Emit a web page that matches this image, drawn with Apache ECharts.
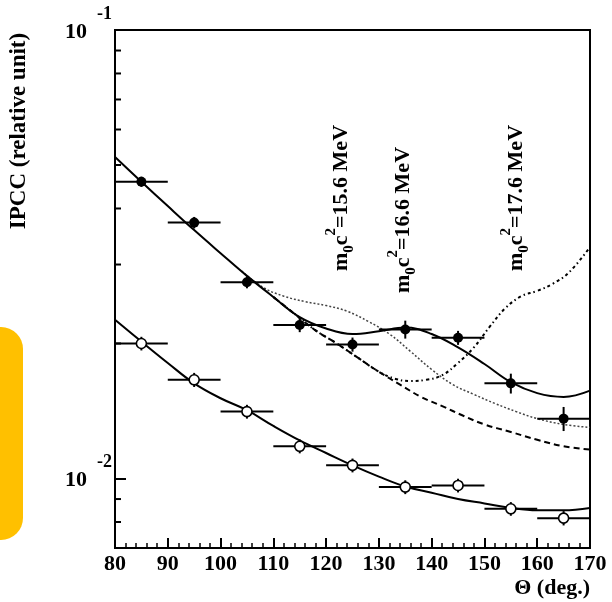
<!DOCTYPE html>
<html>
<head>
<meta charset="utf-8">
<script src="https://cdn.jsdelivr.net/npm/echarts@6/dist/echarts.min.js"></script>
<style>html,body{margin:0;padding:0;background:#fff}#c{width:612px;height:602px}</style>
</head>
<body>
<div id="c"></div>
<script>
// ---- data ----
const thetaPts = [85, 95, 105, 115, 125, 135, 145, 155, 165];
const filledVals = [0.0459, 0.0372, 0.0274, 0.0220, 0.0199, 0.0215, 0.0206, 0.0163, 0.0136];
const filledErr  = [0.0012, 0.0011, 0.00085, 0.0008, 0.00072, 0.00099, 0.00074, 0.00083, 0.00084];
const openVals   = [0.0200, 0.0166, 0.0141, 0.0118, 0.0107, 0.00957, 0.00965, 0.00856, 0.00816];
const openErr    = [0.0007, 0.0006, 0.0005, 0.00042, 0.00038, 0.00034, 0.00034, 0.0003, 0.0003];
const thetaHalfWidth = 5;

const thetaFit = [80, 85, 90, 95, 100, 105, 110, 115, 120, 125, 130, 135, 140, 145, 150, 155, 160, 165, 170];
const fitOn  = [0.0521, 0.0459, 0.0405, 0.0358, 0.0318, 0.0283, 0.0254, 0.0229, 0.0216, 0.0210, 0.0213, 0.0217, 0.0210, 0.0196, 0.0180, 0.0164, 0.0155, 0.0152, 0.0157];
const fitOff = [0.0226, 0.0202, 0.0181, 0.0163, 0.0151, 0.0142, 0.0131, 0.01216, 0.0114, 0.0107, 0.0101, 0.0096, 0.0093, 0.0090, 0.0088, 0.0086, 0.0085, 0.0085, 0.0086];

const theta156 = [104, 108, 112, 116, 120, 124, 128, 132, 136, 140, 144, 148, 152, 156, 160, 165, 170];
const vals156  = [0.0290, 0.0267, 0.0255, 0.0248, 0.0243, 0.0236, 0.0224, 0.0210, 0.0192, 0.0175, 0.0162, 0.0154, 0.0147, 0.0141, 0.0136, 0.0132, 0.0130];

const theta166 = [110, 114, 118, 122, 126, 130, 134, 138, 142, 146, 150, 155, 160, 165, 170];
const vals166  = [0.0254, 0.0233, 0.0214, 0.0200, 0.0186, 0.0173, 0.0162, 0.0152, 0.0145, 0.0138, 0.0132, 0.0127, 0.0122, 0.0118, 0.0116];

const theta176 = [110, 114, 118, 122, 126, 130, 133, 136, 139, 142, 145, 148, 151, 154, 157, 160, 163, 166, 170];
const vals176  = [0.0254, 0.0233, 0.0214, 0.0200, 0.0186, 0.0173, 0.0167, 0.0165, 0.0166, 0.0170, 0.0181, 0.0196, 0.0218, 0.0240, 0.0255, 0.0262, 0.0272, 0.0288, 0.0328];

const yMinorTicks = [0.008, 0.009, 0.02, 0.03, 0.04, 0.05, 0.06, 0.07, 0.08, 0.09];
const massLabels = ['15.6', '16.6', '17.6'];

// ---- build ----
const FONT = 'Liberation Serif';
const zip = (a, b) => a.map((v, i) => [v, b[i]]);

function errItem(params, api) {
  const x = api.value(0), y = api.value(1), ye = api.value(2);
  const l = api.coord([x - thetaHalfWidth, y]);
  const r = api.coord([x + thetaHalfWidth, y]);
  const lo = api.coord([x, y - ye]);
  const hi = api.coord([x, y + ye]);
  const st = { stroke: '#000', lineWidth: 2 };
  return { type: 'group', children: [
    { type: 'line', shape: { x1: l[0], y1: l[1], x2: r[0], y2: r[1] }, style: st },
    { type: 'line', shape: { x1: lo[0], y1: lo[1], x2: hi[0], y2: hi[1] }, style: st }
  ]};
}

function massText(m) {
  return '{n|m}{sub|0}{n|c}{sup|2}{n|=' + m + ' MeV}';
}
const massRich = {
  n: { fontFamily: FONT, fontWeight: 'bold', fontSize: 22, fill: '#000' },
  sub: { fontFamily: FONT, fontWeight: 'bold', fontSize: 15, fill: '#000', padding: [16, 0, 0, 0] },
  sup: { fontFamily: FONT, fontWeight: 'bold', fontSize: 15, fill: '#000', padding: [0, 0, 20, 0] }
};

const chart = echarts.init(document.getElementById('c'), null, { renderer: 'canvas' });
const option = {
  backgroundColor: '#fff',
  animation: false,
  grid: { left: 115, right: 22, top: 30, bottom: 54, show: true, borderColor: '#000', borderWidth: 2, backgroundColor: 'transparent' },
  xAxis: {
    type: 'value', min: 80, max: 170, interval: 10,
    axisLine: { lineStyle: { color: '#000', width: 2 } },
    axisTick: { inside: true, length: 10, lineStyle: { color: '#000', width: 2 } },
    minorTick: { show: true, splitNumber: 5, length: 5, lineStyle: { color: '#000', width: 1.5 } },
    splitLine: { show: false },
    axisLabel: { color: '#000', fontFamily: FONT, fontWeight: 'bold', fontSize: 22, margin: 5 }
  },
  yAxis: {
    type: 'log', logBase: 10, min: 0.007, max: 0.1,
    axisLine: { lineStyle: { color: '#000', width: 2 } },
    axisTick: { inside: true, length: 11, lineStyle: { color: '#000', width: 2 } },
    splitLine: { show: false },
    axisLabel: {
      margin: 3,
      formatter: function (v) {
        const e = Math.log10(v);
        if (Math.abs(e - Math.round(e)) > 1e-6) return '';
        return '{b|10}{s|' + Math.round(e) + '}';
      },
      rich: {
        b: { color: '#000', fontFamily: FONT, fontWeight: 'bold', fontSize: 22, padding: [4, 0, 0, 0] },
        s: { color: '#000', fontFamily: FONT, fontWeight: 'bold', fontSize: 18, padding: [0, 0, 32, 10] }
      }
    }
  },
  series: [
    { type: 'custom', name: 'yMinor', data: yMinorTicks.map(v => [80, v]), encode: { x: 0, y: 1 }, silent: true, z: 5,
      renderItem: function (params, api) {
        const p = api.coord([80, api.value(1)]);
        return { type: 'line', shape: { x1: p[0], y1: p[1], x2: p[0] + 6, y2: p[1] }, style: { stroke: '#000', lineWidth: 2 } };
      } },
    { type: 'line', name: 'fit on', data: zip(thetaFit, fitOn), smooth: 0.4, showSymbol: false, lineStyle: { color: '#000', width: 2 }, z: 3 },
    { type: 'line', name: 'fit off', data: zip(thetaFit, fitOff), smooth: 0.4, showSymbol: false, lineStyle: { color: '#000', width: 2 }, z: 3 },
    { type: 'line', name: '15.6', data: zip(theta156, vals156), smooth: 0.4, showSymbol: false, lineStyle: { color: '#444', width: 1.5, type: [2, 2] }, z: 2 },
    { type: 'line', name: '16.6', data: zip(theta166, vals166), smooth: 0.4, showSymbol: false, lineStyle: { color: '#000', width: 2, type: [6, 4] }, z: 2 },
    { type: 'line', name: '17.6', data: zip(theta176, vals176), smooth: 0.4, showSymbol: false, lineStyle: { color: '#000', width: 2, type: [3, 3, 1.5, 3] }, z: 2 },
    { type: 'custom', name: 'errFilled', data: thetaPts.map((t, i) => [t, filledVals[i], filledErr[i]]), encode: { x: 0, y: 1 }, renderItem: errItem, z: 4 },
    { type: 'custom', name: 'errOpen', data: thetaPts.map((t, i) => [t, openVals[i], openErr[i]]), encode: { x: 0, y: 1 }, renderItem: errItem, z: 4 },
    { type: 'scatter', name: 'filled', data: zip(thetaPts, filledVals), symbol: 'circle', symbolSize: 10, itemStyle: { color: '#000', opacity: 1 }, z: 6 },
    { type: 'scatter', name: 'open', data: zip(thetaPts, openVals), symbol: 'circle', symbolSize: 10, itemStyle: { color: '#fff', borderColor: '#000', borderWidth: 1.6, opacity: 1 }, z: 6 }
  ],
  graphic: [
    { type: 'rect', shape: { x: -30, y: 327, width: 53, height: 213, r: 22 }, style: { fill: '#FFC000' } },
    { type: 'text', x: 19, y: 131, rotation: Math.PI / 2, style: { text: 'IPCC (relative unit)', fill: '#000', font: 'bold 23px "Liberation Serif"', align: 'center', verticalAlign: 'middle' } },
    { type: 'text', x: 590, y: 588, style: { text: 'Θ (deg.)', fill: '#000', font: 'bold 22px "Liberation Serif"', align: 'right', verticalAlign: 'middle' } },
    { type: 'text', x: 341, y: 198, rotation: Math.PI / 2, style: { text: massText(massLabels[0]), rich: massRich, align: 'center', verticalAlign: 'middle' } },
    { type: 'text', x: 403, y: 220, rotation: Math.PI / 2, style: { text: massText(massLabels[1]), rich: massRich, align: 'center', verticalAlign: 'middle' } },
    { type: 'text', x: 516, y: 198, rotation: Math.PI / 2, style: { text: massText(massLabels[2]), rich: massRich, align: 'center', verticalAlign: 'middle' } }
  ]
};
chart.setOption(option);
</script>
</body>
</html>
